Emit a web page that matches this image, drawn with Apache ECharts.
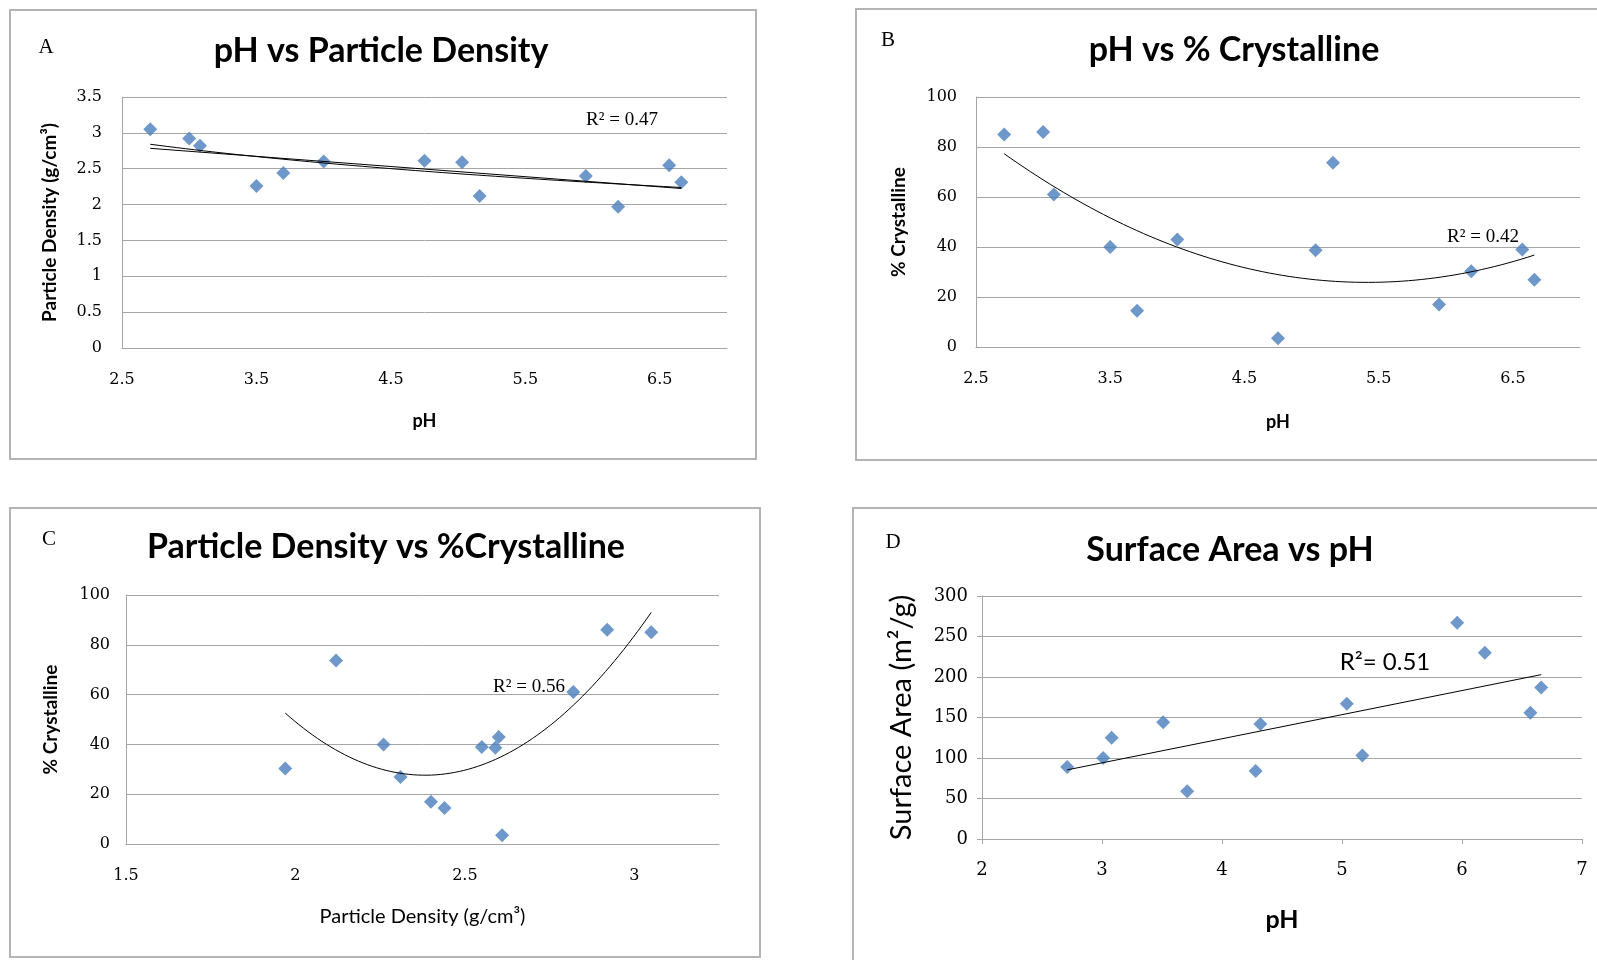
<!DOCTYPE html>
<html><head><meta charset="utf-8">
<script src="https://cdn.jsdelivr.net/npm/echarts@6/dist/echarts.min.js"></script>
<style>html,body{margin:0;padding:0;background:#fff}#c{width:1597px;height:960px}</style>
</head><body><div id="c"></div>
<script>
// ---- data ----
const phAB = [2.71, 3.0, 3.08, 3.5, 3.7, 4.0, 4.75, 5.03, 5.16, 5.95, 6.19, 6.57, 6.66];
const particleDensity = [3.05, 2.92, 2.82, 2.26, 2.44, 2.60, 2.61, 2.59, 2.12, 2.40, 1.97, 2.55, 2.31];
const crystalline = [85, 86, 61, 40, 14.5, 43, 3.5, 38.7, 73.7, 17, 30.3, 39, 26.9];
const phD = [2.71, 3.01, 3.08, 3.51, 3.71, 4.28, 4.32, 5.04, 5.17, 5.96, 6.19, 6.57, 6.66];
const surfaceArea = [89, 100, 125, 144, 59, 84, 142, 167, 103, 267, 230, 156, 187];

const panelTitles = ['pH vs Particle Density', 'pH vs % Crystalline', 'Particle Density vs %Crystalline', 'Surface Area vs pH'];
const panelLetters = ['A', 'B', 'C', 'D'];
const r2Labels = ['R\u00B2 = 0.47', 'R\u00B2 = 0.42', 'R\u00B2 = 0.56', 'R\u00B2= 0.51'];
const xNames = ['pH', 'pH', 'Particle Density (g/cm\u00B3)', 'pH'];
const yNames = ['Particle Density (g/cm\u00B3)', '% Crystalline', '% Crystalline', 'Surface Area (m\u00B2/g)'];

// ---- least-squares fits (trendlines) ----
function polyFit(xs, ys, deg) {
  const n = deg + 1;
  const A = [];
  for (let i = 0; i < n; i++) {
    A.push([]);
    for (let j = 0; j < n; j++) {
      let s = 0; xs.forEach(x => { s += Math.pow(x, i + j); }); A[i].push(s);
    }
    let s = 0; xs.forEach((x, k) => { s += Math.pow(x, i) * ys[k]; }); A[i].push(s);
  }
  for (let c = 0; c < n; c++) {
    let p = c;
    for (let r = c + 1; r < n; r++) if (Math.abs(A[r][c]) > Math.abs(A[p][c])) p = r;
    [A[c], A[p]] = [A[p], A[c]];
    for (let r = 0; r < n; r++) {
      if (r === c) continue;
      const f = A[r][c] / A[c][c];
      for (let k = c; k <= n; k++) A[r][k] -= f * A[c][k];
    }
  }
  return A.map((row, i) => row[n] / row[i]);
}
function curve(xs, fn, steps) {
  const lo = Math.min(...xs), hi = Math.max(...xs), out = [];
  for (let i = 0; i <= steps; i++) { const x = lo + (hi - lo) * i / steps; out.push([x, fn(x)]); }
  return out;
}
const poly = c => x => c.reduce((s, a, i) => s + a * Math.pow(x, i), 0);
const linA = polyFit(phAB, particleDensity, 1);
const logA = polyFit(phAB.map(Math.log), particleDensity, 1);
const quadB = polyFit(phAB, crystalline, 2);
const quadC = polyFit(particleDensity, crystalline, 2);
const linD = polyFit(phD, surfaceArea, 1);

const pairs = (xs, ys) => xs.map((x, i) => [x, ys[i]]);

// ---- styling ----
const GRID = '#a6a6a6';
const SERIF = '"DejaVu Serif", "Liberation Serif", serif';
const SERIF2 = '"Liberation Serif", "Times New Roman", serif';
const SANS = 'Lato, "Open Sans", sans-serif';
const BLUE = '#4a7ebb';

function xAxis(i, min, max, interval, o) {
  return {
    type: 'value', gridIndex: i, min, max, interval,
    name: xNames[i], nameLocation: 'middle', nameGap: o.nameGap,
    nameTextStyle: { fontFamily: SANS, fontSize: o.nameSize, fontWeight: o.nameWeight, color: '#000' },
    splitLine: { show: false },
    axisLine: { show: true, lineStyle: { color: GRID, width: 1 } },
    axisTick: { show: !!o.ticks, length: 5, lineStyle: { color: GRID } },
    axisLabel: { showMaxLabel: !!o.showMax, margin: o.margin, fontFamily: SERIF, fontSize: o.labelSize, color: '#000' }
  };
}
function yAxis(i, min, max, interval, o) {
  return {
    type: 'value', gridIndex: i, min, max, interval,
    name: yNames[i], nameLocation: 'middle', nameGap: o.nameGap, nameRotate: 90,
    nameTextStyle: { fontFamily: SANS, fontSize: o.nameSize, fontWeight: o.nameWeight, color: '#000' },
    splitLine: { show: true, lineStyle: { color: GRID, width: 1 } },
    axisLine: { show: true, lineStyle: { color: GRID, width: 1 } },
    axisTick: { show: !!o.ticks, length: 5, lineStyle: { color: GRID } },
    axisLabel: { margin: o.margin, fontFamily: SERIF, fontSize: o.labelSize, color: '#000' }
  };
}
function scatter(i, data) {
  return { type: 'scatter', xAxisIndex: i, yAxisIndex: i, data, symbol: 'diamond', symbolSize: 14,
    itemStyle: { color: BLUE }, z: 3 };
}
function trend(i, data) {
  return { type: 'line', xAxisIndex: i, yAxisIndex: i, data, showSymbol: false, symbol: 'none',
    lineStyle: { color: '#000', width: 1 }, z: 4, silent: true };
}
function txt(text, x, y, font, extra) {
  return { type: 'text', x, y, silent: true, style: Object.assign({ text, align: 'center', verticalAlign: 'middle', fill: '#000', font }, extra || {}) };
}
function box(x, y, w, h) {
  return { type: 'rect', silent: true, shape: { x, y, width: w, height: h }, style: { fill: 'none', stroke: '#b4b4b4', lineWidth: 2 } };
}

const option = {
  animation: false,
  backgroundColor: '#fff',
  grid: [
    { left: 122, top: 97, width: 605, height: 251 },
    { left: 976, top: 97, width: 604, height: 250 },
    { left: 126, top: 595, width: 593, height: 249 },
    { left: 982, top: 596, width: 600, height: 243 }
  ],
  xAxis: [
    xAxis(0, 2.5, 7, 1, { nameGap: 64, nameSize: 18, nameWeight: 'bold', margin: 24, labelSize: 16 }),
    xAxis(1, 2.5, 7, 1, { nameGap: 66, nameSize: 18, nameWeight: 'bold', margin: 24, labelSize: 16 }),
    xAxis(2, 1.5, 3.25, 0.5, { nameGap: 63, nameSize: 20, nameWeight: 'normal', margin: 24, labelSize: 16 }),
    xAxis(3, 2, 7, 1, { nameGap: 68, nameSize: 25, nameWeight: 'bold', margin: 22, labelSize: 18, ticks: true, showMax: true })
  ],
  yAxis: [
    yAxis(0, 0, 3.5, 0.5, { nameGap: 63, nameSize: 19, nameWeight: 'bold', margin: 20, labelSize: 16 }),
    yAxis(1, 0, 100, 20, { nameGap: 68, nameSize: 19, nameWeight: 'bold', margin: 19, labelSize: 16 }),
    yAxis(2, 0, 100, 20, { nameGap: 66, nameSize: 19, nameWeight: 'bold', margin: 16, labelSize: 16 }),
    yAxis(3, 0, 300, 50, { nameGap: 66, nameSize: 29, nameWeight: 'normal', margin: 14, labelSize: 18, ticks: true })
  ],
  series: [
    scatter(0, pairs(phAB, particleDensity)),
    trend(0, curve(phAB, poly(linA), 1)),
    trend(0, curve(phAB, x => logA[0] + logA[1] * Math.log(x), 60)),
    scatter(1, pairs(phAB, crystalline)),
    trend(1, curve(phAB, poly(quadB), 80)),
    scatter(2, pairs(particleDensity, crystalline)),
    trend(2, curve(particleDensity, poly(quadC), 80)),
    scatter(3, pairs(phD, surfaceArea)),
    trend(3, curve(phD, poly(linD), 1))
  ],
  graphic: [
    box(10, 10, 746, 449), box(856, 9, 800, 451), box(10, 508, 750, 449), box(853, 508, 800, 500),
    txt(panelLetters[0], 46, 47, '21px ' + SERIF2),
    txt(panelLetters[1], 888, 40, '21px ' + SERIF2),
    txt(panelLetters[2], 49, 539, '21px ' + SERIF2),
    txt(panelLetters[3], 893, 542, '21px ' + SERIF2),
    txt(panelTitles[0], 381, 51, 'bold 34px ' + SANS),
    txt(panelTitles[1], 1234, 50, 'bold 34px ' + SANS),
    txt(panelTitles[2], 386, 547, 'bold 34px ' + SANS),
    txt(panelTitles[3], 1230, 550, 'bold 34px ' + SANS),
    txt(r2Labels[0], 622, 120, '19px ' + SERIF2),
    txt(r2Labels[1], 1483, 237, '19px ' + SERIF2),
    txt(r2Labels[2], 529, 687, '19px ' + SERIF2),
    txt(r2Labels[3], 1385, 662, '24px ' + SANS)
  ]
};
const chart = echarts.init(document.getElementById('c'), null, { renderer: 'canvas' });
chart.setOption(option);
</script>
</body></html>
